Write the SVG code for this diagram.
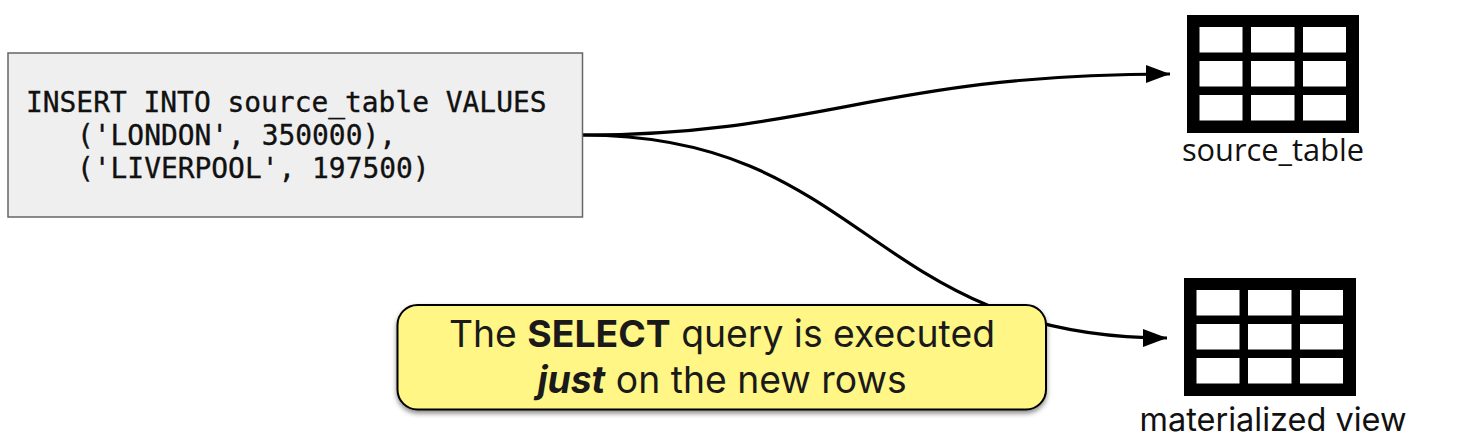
<svg xmlns="http://www.w3.org/2000/svg" width="1458" height="446" viewBox="0 0 1458 446">
<style>
.code{font-family:"DejaVu Sans Mono","Liberation Mono",monospace;font-size:27.9px;fill:#111;stroke:#111;stroke-width:.35}
.lbl{font-family:"Open Sans","Noto Sans",sans-serif;font-size:30.8px;fill:#111;text-anchor:middle}
.lbl2{font-family:Inter,"Noto Sans",sans-serif;font-size:32.5px;fill:#111;text-anchor:middle}
.call{font-family:Inter,"Noto Sans",sans-serif;font-size:37.3px;fill:#1a1a1a;text-anchor:middle}
.conn{fill:none;stroke:#000;stroke-width:3.200;marker-end:url(#arrow)}
.cell{fill:#fff}
</style>
<defs>
<marker id="arrow" markerUnits="userSpaceOnUse" markerWidth="26" markerHeight="20" refX="24" refY="9" orient="auto"><path d="M0 0L24 9L0 18Z" fill="#000"/></marker>
<filter id="sh" x="-5%" y="-10%" width="110%" height="125%"><feDropShadow dx="0" dy="3" stdDeviation="2.5" flood-color="#000" flood-opacity=".45"/></filter>
<g id="grid"><rect width="172" height="118" fill="#000"/>
<rect class="cell" x="12.5" y="12" width="43" height="25.5"/><rect class="cell" x="64" y="12" width="43.5" height="25.5"/><rect class="cell" x="116" y="12" width="43" height="25.500"/>
<rect class="cell" x="12.5" y="46" width="43" height="25.5"/><rect class="cell" x="64" y="46" width="43.5" height="25.5"/><rect class="cell" x="116" y="46" width="43" height="25.500"/>
<rect class="cell" x="12.5" y="80" width="43" height="25.5"/><rect class="cell" x="64" y="80" width="43.5" height="25.5"/><rect class="cell" x="116" y="80" width="43" height="25.500"/></g>
</defs>
<rect width="1458" height="446" fill="#fff"/>
<g id="connectors">
<path class="conn" d="M583 135C820 135 880 74 1170 74"/>
<path class="conn" d="M583 135C865 135 870 338 1167 338"/>
</g>
<g id="insert"><rect x="8" y="53" width="574.500" height="164" fill="#efefef" stroke="#666" stroke-width="1.500"/>
<text class="code" x="26" y="112">INSERT INTO source_table VALUES</text>
<text class="code" x="77" y="145">('LONDON', 350000),</text>
<text class="code" x="77" y="178">('LIVERPOOL', 197500)</text></g>
<g id="source_table"><use href="#grid" x="1187" y="15"/><text class="lbl" x="1273" y="161">source_table</text></g>
<g id="materialized_view"><use href="#grid" x="1184" y="278"/><text class="lbl2" x="1273" y="431">materialized view</text></g>
<g id="callout"><rect x="397.500" y="305" width="648.500" height="104.500" rx="20" fill="#fff685" stroke="#000" stroke-width="2" filter="url(#sh)"/>
<text class="call" x="722" y="347">The <tspan font-weight="700">SELECT</tspan> query is executed</text>
<text class="call" x="722" y="393"><tspan font-weight="700" font-style="italic">just</tspan> on the new rows</text></g>
</svg>
